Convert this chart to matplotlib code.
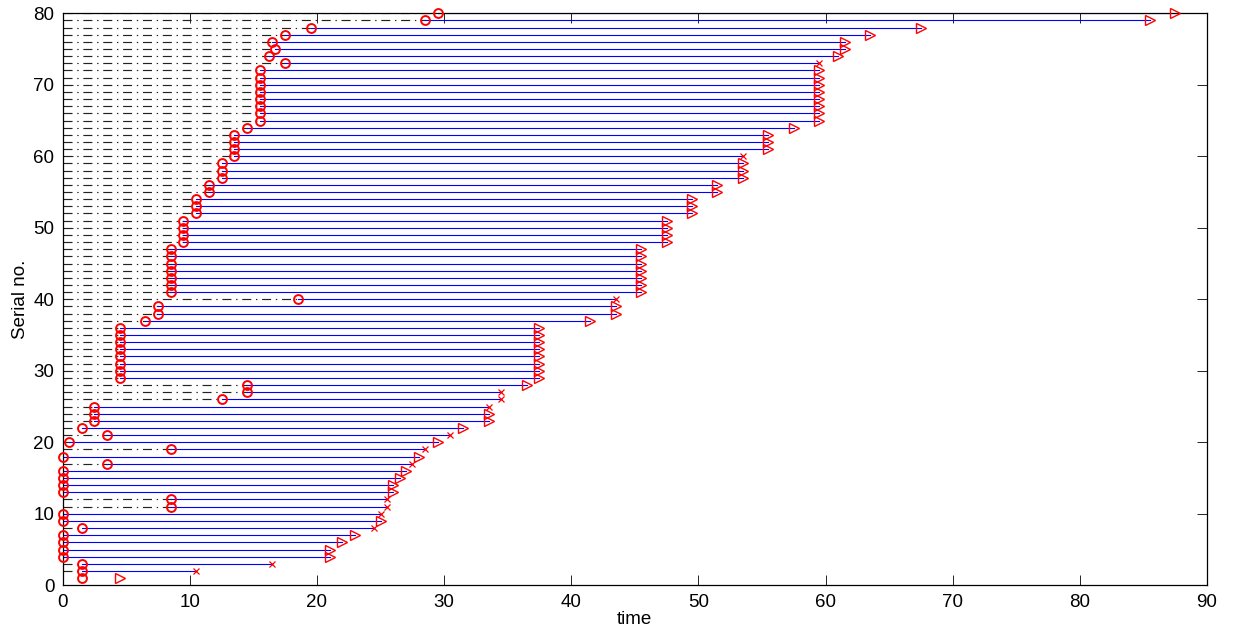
import matplotlib
matplotlib.use('Agg')
import matplotlib.pyplot as plt
import numpy as np

plt.rcParams['font.family'] = ['Liberation Sans', 'DejaVu Sans']
plt.rcParams['lines.scale_dashes'] = False

# serial numbers 1..80, start time (circle) and finish time per job
serial = np.arange(1, 81)
start = [1.5, 1.5, 1.5, 0, 0, 0, 0, 1.5, 0, 0,
         8.5, 8.5, 0, 0, 0, 0, 3.5, 0, 8.5, 0.5,
         3.5, 1.5, 2.5, 2.5, 2.5, 12.5, 14.5, 14.5, 4.5, 4.5,
         4.5, 4.5, 4.5, 4.5, 4.5, 4.5, 6.5, 7.5, 7.5, 18.5,
         8.5, 8.5, 8.5, 8.5, 8.5, 8.5, 8.5, 9.5, 9.5, 9.5,
         9.5, 10.5, 10.5, 10.5, 11.5, 11.5, 12.5, 12.5, 12.5, 13.5,
         13.5, 13.5, 13.5, 14.5, 15.5, 15.5, 15.5, 15.5, 15.5, 15.5,
         15.5, 15.5, 17.5, 16.2, 16.7, 16.5, 17.5, 19.5, 28.5, 29.5]
finish = [4.5, 10.5, 16.5, 21, 21, 22, 23, 24.5, 25, 25,
          25.5, 25.5, 26, 26, 26.5, 27, 27.5, 28, 28.5, 29.5,
          30.5, 31.5, 33.5, 33.5, 33.5, 34.5, 34.5, 36.5, 37.5, 37.5,
          37.5, 37.5, 37.5, 37.5, 37.5, 37.5, 41.5, 43.5, 43.5, 43.5,
          45.5, 45.5, 45.5, 45.5, 45.5, 45.5, 45.5, 47.5, 47.5, 47.5,
          47.5, 49.5, 49.5, 49.5, 51.5, 51.5, 53.5, 53.5, 53.5, 53.5,
          55.5, 55.5, 55.5, 57.5, 59.5, 59.5, 59.5, 59.5, 59.5, 59.5,
          59.5, 59.5, 59.5, 61, 61.5, 61.5, 63.5, 67.5, 85.5, 87.5]
# 't' = completed (triangle), 'x' = dropped
status = list('txxttttxtx'
              'xxttttxtxt'
              'xtttxxxttt'
              'tttttttttx'
              'tttttttttt'
              'tttttttttx'
              'tttttttttt'
              'ttxttttttt')

fig = plt.figure(figsize=(12.34, 6.37), dpi=100)
ax = fig.add_axes([0.0508, 0.0812, 0.9273, 0.898])

for i in range(1, len(serial)):
    y = serial[i]
    if start[i] > 0:
        ax.plot([0, start[i]], [y, y], color='#222222', lw=0.85,
                linestyle=(0, (6.5, 3.4, 1.0, 3.4)))
    ax.plot([start[i], finish[i]], [y, y], color='b', lw=0.8)

ax.plot(start, serial, 'o', mfc='none', mec='r', ms=6.4, mew=1.4,
        clip_on=False, zorder=5)
done = [k for k in range(len(serial)) if status[k] == 't']
drop = [k for k in range(len(serial)) if status[k] == 'x']
ax.plot([finish[k] for k in done], [serial[k] for k in done], '>',
        mfc='none', mec='r', ms=6.6, mew=1.0, clip_on=False, zorder=5)
ax.plot([finish[k] for k in drop], [serial[k] for k in drop], 'x',
        color='r', ms=4, mew=0.9, clip_on=False, zorder=5)

ax.set_xlim(0, 90)
ax.set_ylim(0, 80)
ax.set_xticks(np.arange(0, 91, 10))
ax.set_yticks(np.arange(0, 81, 10))
ax.tick_params(direction='in', length=7, width=0.6, top=True, right=True,
               labelsize=13.5, pad=6)
for s in ax.spines.values():
    s.set_linewidth(0.9)
ax.set_xlabel('time', fontsize=13.5, labelpad=0)
ax.set_ylabel('Serial no.', fontsize=13.5, labelpad=3)

fig.savefig('out.png', dpi=100)
